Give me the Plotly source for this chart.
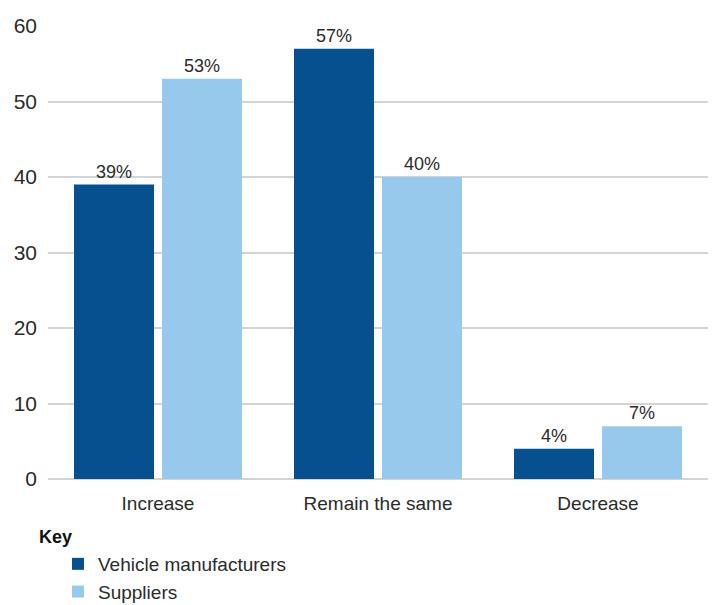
import plotly.graph_objects as go

# Expected change, share of respondents (%)
categories = ["Increase", "Remain the same", "Decrease"]
vehicle_manufacturers = [39, 57, 4]
suppliers = [53, 40, 7]
y_ticks = [0, 10, 20, 30, 40, 50, 60]

DARK = "#07508F"
LIGHT = "#96C9EC"
TEXT = "#2b2b2b"
FONT = "Liberation Sans"

fig = go.Figure()
fig.add_trace(go.Bar(
    x=categories, y=vehicle_manufacturers, name="Vehicle manufacturers",
    marker=dict(color=DARK, line=dict(width=0)),
    text=[f"{v}%" for v in vehicle_manufacturers], textposition="outside",
    textfont=dict(family=FONT, size=18, color=TEXT), cliponaxis=False,
))
fig.add_trace(go.Bar(
    x=categories, y=suppliers, name="Suppliers",
    marker=dict(color=LIGHT, line=dict(width=0)),
    text=[f"{v}%" for v in suppliers], textposition="outside",
    textfont=dict(family=FONT, size=18, color=TEXT), cliponaxis=False,
))

fig.update_layout(
    width=715, height=605,
    margin=dict(l=48, r=7, t=26, b=126, autoexpand=False),
    paper_bgcolor="white", plot_bgcolor="white",
    barmode="group", bargap=0.2, bargroupgap=0.0909,
    font=dict(family=FONT, color=TEXT),
    showlegend=True,
    legend=dict(
        xref="container", yref="container", x=58 / 715, y=1 - 545 / 605,
        xanchor="left", yanchor="top",
        font=dict(family=FONT, size=19, color=TEXT),
        tracegroupgap=0, itemsizing="constant",
    ),
    annotations=[dict(
        text="<b>Key</b>", xref="paper", yref="paper",
        x=-11 / 655, y=-(537 - 479) / 453, xanchor="left", yanchor="middle",
        showarrow=False, font=dict(family=FONT, size=18, color="#111111"),
    )],
)
fig.update_xaxes(
    showgrid=False, showline=False, zeroline=False,
    tickfont=dict(family=FONT, size=19, color=TEXT),
    ticklabelstandoff=11,
)
fig.update_yaxes(
    range=[0, 60], tickvals=y_ticks,
    showgrid=True, gridcolor="#d4d4d4", gridwidth=1.5,
    zeroline=True, zerolinecolor="#d4d4d4", zerolinewidth=1.5,
    showline=False,
    tickfont=dict(family=FONT, size=21, color=TEXT),
    ticklabelstandoff=10,
)

fig.write_html("out.html")
